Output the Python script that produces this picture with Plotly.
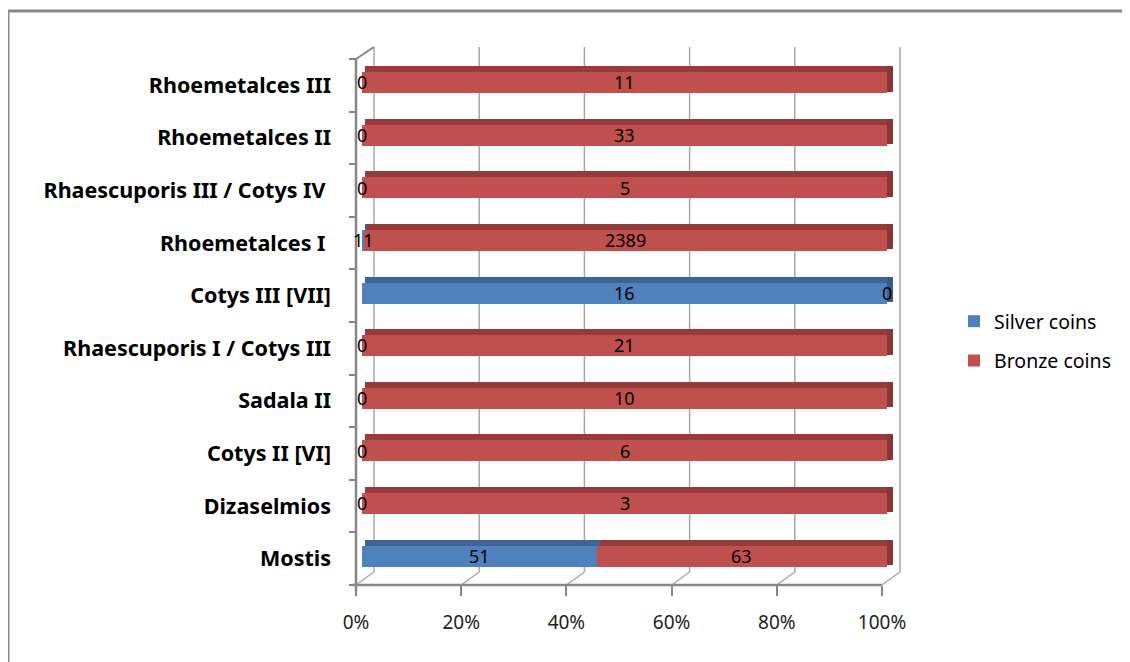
import plotly.graph_objects as go

# ---------------- data ----------------
categories = ["Mostis", "Dizaselmios", "Cotys II [VI]", "Sadala II",
              "Rhaescuporis I / Cotys III", "Cotys III [VII]", "Rhoemetalces I\u00a0",
              "Rhaescuporis III / Cotys IV\u00a0", "Rhoemetalces II", "Rhoemetalces III"]
silver_coins = [51, 0, 0, 0, 0, 16, 11, 0, 0, 0]
bronze_coins = [63, 3, 6, 10, 21, 0, 2389, 5, 33, 11]
tick_values = [0, 20, 40, 60, 80, 100]
tick_labels = ["0%", "20%", "40%", "60%", "80%", "100%"]

# ---------------- derived (100% stacked) ----------------
totals = [s + b for s, b in zip(silver_coins, bronze_coins)]
silver_pct = [100.0 * s / t for s, t in zip(silver_coins, totals)]
bronze_pct = [100.0 * b / t for b, t in zip(bronze_coins, totals)]
bronze_base = silver_pct[:]

# ---------------- geometry (page pixels; div sits at an 8px body margin) ----------------
OFF = 8
W, H = 1130, 662
L, R, T, B = 352 - OFF, 905 - OFF, 47 - OFF, 585 - OFF
def px_x(p): return (p - OFF - L) / (R - L)
def px_y(p): return (B - (p - OFF)) / (B - T)

bar_x0, bar_x100 = 362 - OFF, 887 - OFF      # bars plane
front_x0, front_x100 = 356 - OFF, 882 - OFF  # front plane (axis)
back_dx, back_dy = 18, 13                    # depth offset
ppu_bar = (bar_x100 - bar_x0) / 100.0
ppu_f = (front_x100 - front_x0) / 100.0
x_range = [(L - bar_x0) / ppu_bar, (R - bar_x0) / ppu_bar]
x2_range = [(L - front_x0) / ppu_f, (R - front_x0) / ppu_f]
x3_range = [(L - front_x0 - back_dx) / ppu_f, (R - front_x0 - back_dx) / ppu_f]
front_top = 59 - OFF
cat_px = (B - front_top) / 10.0
y_range = [-0.5, 9.5 + (front_top - T) / cat_px]

RED, RED_TOP, RED_SIDE = "#C0504D", "#953B39", "#8A3634"
BLUE, BLUE_TOP, BLUE_SIDE = "#4F81BD", "#3C6496", "#375C89"

FRONT_OFF, FRONT_W = -0.15, 0.40
TOP_OFF, TOP_W = 0.25, 0.115
shift = 0.55  # top face slant

fig = go.Figure()

# front faces
fig.add_trace(go.Bar(y=categories, x=silver_pct, base=[0] * 10, orientation="h",
                     name="Silver coins", marker=dict(color=BLUE, line=dict(width=0)),
                     width=FRONT_W, offset=FRONT_OFF, legendgroup="s", hoverinfo="skip"))
fig.add_trace(go.Bar(y=categories, x=bronze_pct, base=bronze_base, orientation="h",
                     name="Bronze coins", marker=dict(color=RED, line=dict(width=0)),
                     width=FRONT_W, offset=FRONT_OFF, legendgroup="b", hoverinfo="skip"))
# top faces
fig.add_trace(go.Bar(y=categories, x=silver_pct, base=[shift] * 10, orientation="h",
                     marker=dict(color=BLUE_TOP, line=dict(width=0)), showlegend=False,
                     width=TOP_W, offset=TOP_OFF, hoverinfo="skip"))
fig.add_trace(go.Bar(y=categories, x=bronze_pct, base=[b + shift for b in bronze_base],
                     orientation="h", marker=dict(color=RED_TOP, line=dict(width=0)),
                     showlegend=False, width=TOP_W, offset=TOP_OFF, hoverinfo="skip"))
# right side faces of the last visible segment
side_w = [1.1] * 10
side_colors = [RED_SIDE if b > 0 else BLUE_SIDE for b in bronze_coins]
fig.add_trace(go.Bar(y=categories, x=side_w, base=[100] * 10, orientation="h",
                     marker=dict(color=side_colors, line=dict(width=0)), showlegend=False,
                     width=FRONT_W + TOP_W - 0.03, offset=FRONT_OFF + 0.03, hoverinfo="skip"))

# invisible helpers to create the frame axes
fig.add_trace(go.Scatter(x=[0, 100], y=[categories[0]] * 2, xaxis="x2", mode="markers",
                         marker=dict(opacity=0), showlegend=False, hoverinfo="skip"))
fig.add_trace(go.Scatter(x=[0, 100], y=[categories[0]] * 2, xaxis="x3", mode="markers",
                         marker=dict(opacity=0), showlegend=False, hoverinfo="skip"))

# data labels
ann = []
lab_font = dict(family="Noto Sans", size=18, color="#000000")
for i, c in enumerate(categories):
    ann.append(dict(x=silver_pct[i] / 2.0, y=c, xref="x", yref="y", text=str(silver_coins[i]),
                    showarrow=False, font=lab_font, yshift=3))
    ann.append(dict(x=bronze_base[i] + bronze_pct[i] / 2.0, y=c, xref="x", yref="y",
                    text=str(bronze_coins[i]), showarrow=False, font=lab_font, yshift=3))

# frame / walls
shapes = []
AX = "#868686"
GR = "#A8A8A8"
back_bottom = (back_dy) / (B - T)
for v in tick_values:
    shapes.append(dict(type="line", xref="x3", yref="paper", x0=v, x1=v,
                       y0=back_bottom, y1=1, line=dict(color=GR, width=1.5), layer="below"))
    shapes.append(dict(type="line", xref="x2", yref="paper", x0=v, x1=v + back_dx / ppu_f,
                       y0=0, y1=back_bottom, line=dict(color=GR, width=1.5), layer="below"))
# front left axis line
shapes.append(dict(type="line", xref="x2", yref="paper", x0=0, x1=0, y0=px_y(592), y1=px_y(59),
                   line=dict(color=AX, width=2.5)))
# top-left diagonal
shapes.append(dict(type="line", xref="x2", yref="paper", x0=0, x1=back_dx / ppu_f,
                   y0=px_y(59), y1=1, line=dict(color=AX, width=2)))
# front bottom axis line
shapes.append(dict(type="line", xref="x2", yref="paper", x0=-1.2, x1=100, y0=0, y1=0,
                   line=dict(color=AX, width=2.5)))
# outer chart border
shapes.append(dict(type="line", xref="paper", yref="paper", x0=px_x(8), x1=px_x(8),
                   y0=px_y(11), y1=px_y(700), line=dict(color="#888888", width=3)))
shapes.append(dict(type="line", xref="paper", yref="paper", x0=px_x(8), x1=px_x(1200),
                   y0=px_y(11), y1=px_y(11), line=dict(color="#888888", width=3)))

fig.update_layout(
    width=W, height=H,
    margin=dict(l=L, r=W - R, t=T, b=H - B, autoexpand=False),
    paper_bgcolor="white", plot_bgcolor="rgba(0,0,0,0)",
    barmode="overlay", bargap=0,
    showlegend=True,
    legend=dict(x=px_x(954), y=px_y(341), xanchor="left", yanchor="middle",
                font=dict(family="Noto Sans", size=19.5, color="#000000"),
                traceorder="grouped", tracegroupgap=11, bgcolor="rgba(0,0,0,0)"),
    xaxis=dict(range=x_range, showgrid=False, zeroline=False, showticklabels=False,
               showline=False, fixedrange=True),
    xaxis2=dict(range=x2_range, overlaying="x", anchor="y", side="bottom",
                showgrid=False, zeroline=False, showline=False,
                tickvals=tick_values, ticktext=tick_labels, ticks="outside",
                ticklen=10, tickwidth=1.5, tickcolor=AX, ticklabelstandoff=10,
                tickfont=dict(family="Noto Sans", size=19, color="#222222")),
    xaxis3=dict(range=x3_range, overlaying="x", anchor="y", visible=False,
                showgrid=False, zeroline=False),
    yaxis=dict(range=y_range, type="category", categoryorder="array", categoryarray=categories,
               anchor="free", position=(front_x0 - L) / (R - L), showgrid=False, zeroline=False,
               showline=False, ticks="outside", tickson="boundaries", ticklen=7,
               tickwidth=2, tickcolor=AX, ticklabelstandoff=25,
               tickfont=dict(family="Noto Sans", size=21.5, color="#000000", weight="bold")),
    annotations=ann, shapes=shapes,
)

fig.write_html("out.html")
